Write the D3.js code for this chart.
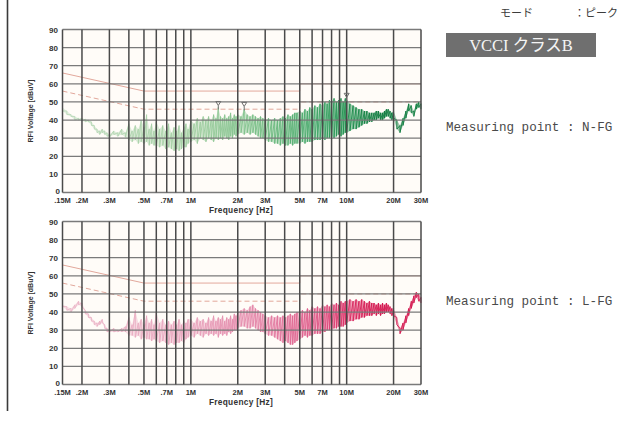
<!DOCTYPE html>
<html>
<head>
<meta charset="utf-8">
<script src="https://cdn.jsdelivr.net/npm/d3@7"></script>
<style>
  html, body { margin: 0; padding: 0; background: #fff; }
  svg { display: block; }
</style>
</head>
<body>
<svg id="chart" width="632" height="425"></svg>
<script>
// frequency points (MHz) shared by both traces
const freqs = [
  0.15,0.16,0.17,0.18,0.19,0.2,0.21,0.22,0.23,0.24,0.25,0.26,0.27,0.28,0.29,0.3,0.32,0.34,0.36,0.38,
  0.4,0.42,0.44,0.46,0.48,0.5,0.52,0.54,0.56,0.58,0.6,0.63,0.66,0.69,0.72,0.75,0.78,0.81,0.84,0.87,0.9,0.93,0.96,
  1,1.05,1.1,1.15,1.2,1.25,1.3,1.35,1.4,1.45,1.5,1.55,1.6,1.65,1.7,1.75,1.8,1.85,1.9,1.95,
  2,2.1,2.2,2.3,2.4,2.5,2.6,2.7,2.8,2.9,3,3.15,3.3,3.45,3.6,3.75,3.9,4.05,4.2,4.35,4.5,4.65,4.8,
  5,5.2,5.4,5.6,5.8,6,6.25,6.5,6.75,7,7.25,7.5,7.75,8,8.3,8.6,8.9,9.2,9.5,9.8,
  10,10.5,11,11.5,12,12.5,13,13.5,14,14.5,15,15.5,16,16.5,17,17.5,18,18.5,19,19.5,
  20,21,22,23,24,25,26,27,28,29,30
];

// N-FG trace, upper and lower envelope (dBuV)
const nfgHigh = [
  47,45,43,42,41,41,40.5,40,39,37,35,34,35,34,33,32,34,33,35,33,
  38,34,37,35,40,36,43,35,38,34,39,35,37,34,38,33,36,34,37,33,36,38,35,
  40,38,41,39,42,40,42,40,43,41,47,42,41,43,41,42,44,41,43,42,
  43,42,46,43,42,43,42,41,42,41,40,41,40,41,40,41,42,41,43,42,43,44,44,
  45,44,46,45,47,46,48,47,49,48,50,49,51,50,52,50,51,52,50,52,
  51,49,48,47,46,46,45,45,44,44,44,45,45,44,44,45,46,46,45,44,
  45,40,37,41,45,49,48,45,49,50,49
];
const nfgLow = [
  45,43,42,40,40,39.5,39,39,37,35,33,32,33,32,31,30.5,32,31,32,30.5,
  29,28,29,27,28,27,28,26,27,26,26,25,26,24,25,24,23,24,23,24,25,25,27,
  28,29,27,30,29,28,30,29,28,30,29,30,29,31,30,29,31,30,32,31,
  32,33,32,33,32,33,32,31,30,30,29,28,28,27,27,26,27,26,26,27,26,27,27,
  27,28,27,28,28,28,29,29,29,30,29,30,30,31,30,31,32,31,32,33,
  33,34,35,35,36,37,38,38,39,39,40,40,41,40,40,41,42,42,41,40,
  41,35,33,37,41,45,44,42,46,47,46
];

// L-FG trace, upper and lower envelope (dBuV)
const lfgHigh = [
  44,43,42,44,46,45,41,39,37,35,34,35,36,33,31,30,31,30,31,32,
  37,33,41,34,36,33,38,34,36,33,40,34,36,33,35,33,35,33,36,33,35,34,36,
  36,34,37,35,36,34,37,35,38,35,37,36,38,35,37,36,38,36,39,38,
  40,41,42,41,43,44,42,41,40,39,38,37,38,37,38,37,38,37,38,39,38,39,40,
  40,41,40,42,41,43,42,43,42,44,43,44,43,45,44,45,44,46,45,46,
  46,47,46,47,46,47,46,45,46,45,45,44,45,44,45,44,45,44,43,42,
  42,37,31,34,38,42,46,49,51,50,48
];
const lfgLow = [
  43,41,40,42,44,43,39,37,35,33,32,33,34,31,29,29,29,29,29,29,
  27,27,26,27,25,26,25,25,24,25,24,23,24,23,22,23,22,23,23,24,23,25,26,
  27,26,28,27,26,28,27,28,27,28,26,28,27,28,27,29,28,29,30,30,
  31,32,32,31,31,32,31,30,29,29,28,27,27,26,25,24,23,24,23,22,22,23,24,
  25,26,27,26,27,27,28,28,28,29,29,30,30,30,31,31,32,32,32,33,
  34,35,35,36,36,37,37,38,38,38,39,38,39,38,39,39,40,40,39,38,
  38,33,28,30,34,38,42,45,48,46,45
];

// peak markers on the N-FG plot [MHz, dBuV]
const nfgMarkers = [[1.5, 47.5], [2.2, 47], [10, 52]];

// limit lines (quasi-peak solid, average dashed)
const qpLimit = [[0.15, 66], [0.5, 56], [5, 56], [5, 60], [30, 60]];
const avLimit = [[0.15, 56], [0.5, 46], [5, 46], [5, 50], [30, 50]];

const gridFreqs = [0.2,0.3,0.4,0.5,0.6,0.7,0.8,0.9,1,2,3,4,5,6,7,8,9,10,20];
const tickFreqs = [0.15,0.2,0.3,0.5,0.7,1,2,3,5,7,10,20,30];
const tickLabels = [".15M",".2M",".3M",".5M",".7M","1M","2M","3M","5M","7M","10M","20M","30M"];
const yTicks = [0,10,20,30,40,50,60,70,80,90];

// colour ramps along frequency
const greenStops = [[0.15,"#b9d9b9"],[1,"#9fcd9f"],[3,"#6fbb80"],[7,"#35a060"],[10,"#178c48"],[15,"#08783a"],[30,"#0a7a3b"]];
const pinkStops = [[0.15,"#ebb6c8"],[1,"#e7a0ba"],[3,"#e27ca2"],[7,"#dc4b7e"],[10,"#d8245e"],[15,"#d2104a"],[30,"#d3124c"]];

const svg = d3.select("#chart");
const defs = svg.append("defs");
const x = d3.scaleLog().domain([0.15, 30]).range([62.5, 421]);

// left page rule
svg.append("line")
  .attr("x1", 7.5).attr("x2", 7.5).attr("y1", 0).attr("y2", 411)
  .attr("stroke", "#3a3a3a").attr("stroke-width", 1.6);

function makeGradient(id, stops) {
  const g = defs.append("linearGradient")
    .attr("id", id)
    .attr("gradientUnits", "userSpaceOnUse")
    .attr("x1", x.range()[0]).attr("x2", x.range()[1])
    .attr("y1", 0).attr("y2", 0);
  g.selectAll("stop").data(stops).enter().append("stop")
    .attr("offset", d => (x(d[0]) - x.range()[0]) / (x.range()[1] - x.range()[0]))
    .attr("stop-color", d => d[1]);
}
makeGradient("gradN", greenStops);
makeGradient("gradL", pinkStops);

function drawPanel(yTop, yBottom, high, low, gradId, markers) {
  const y = d3.scaleLinear().domain([0, 90]).range([yBottom, yTop]);
  const g = svg.append("g");

  g.append("rect")
    .attr("x", x.range()[0]).attr("y", yTop)
    .attr("width", x.range()[1] - x.range()[0]).attr("height", yBottom - yTop)
    .attr("fill", "#fffcf8");

  // limit lines
  const lim = d3.line().x(d => x(d[0])).y(d => y(d[1]));
  g.append("path").attr("d", lim(qpLimit))
    .attr("fill", "none").attr("stroke", "#e2a89c").attr("stroke-width", 1);
  g.append("path").attr("d", lim(avLimit))
    .attr("fill", "none").attr("stroke", "#e2a89c").attr("stroke-width", 1)
    .attr("stroke-dasharray", "5,3");

  // trace: envelope band + saw-tooth between high and low
  const pts = freqs.map((f, i) => ({ f: f, hi: high[i], lo: low[i] }));
  const area = d3.area().x(d => x(d.f)).y0(d => y(d.lo)).y1(d => y(d.hi));
  g.append("path").attr("d", area(pts))
    .attr("fill", "url(#" + gradId + ")").attr("fill-opacity", 0.4);

  const saw = [];
  pts.forEach(d => { saw.push([x(d.f), y(d.hi)]); saw.push([x(d.f), y(d.lo)]); });
  g.append("path").attr("d", d3.line()(saw))
    .attr("fill", "none").attr("stroke", "url(#" + gradId + ")")
    .attr("stroke-width", 0.85).attr("stroke-linejoin", "round");

  // grid
  g.selectAll("line.hgrid").data(yTicks).enter().append("line")
    .attr("class", "hgrid")
    .attr("x1", x.range()[0]).attr("x2", x.range()[1])
    .attr("y1", d => y(d)).attr("y2", d => y(d))
    .attr("stroke", "#7a7a7a").attr("stroke-width", 1.3);
  g.selectAll("line.vgrid").data([0.15].concat(gridFreqs, [30])).enter().append("line")
    .attr("class", "vgrid")
    .attr("x1", d => x(d)).attr("x2", d => x(d))
    .attr("y1", yTop).attr("y2", yBottom)
    .attr("stroke", "#4a4a4a").attr("stroke-width", 1.5);

  // peak markers
  if (markers) {
    g.selectAll("path.marker").data(markers).enter().append("path")
      .attr("class", "marker")
      .attr("d", d => {
        const mx = x(d[0]), my = y(d[1]);
        return "M" + (mx - 2.5) + "," + (my - 5) + "L" + (mx + 2.5) + "," + (my - 5) +
          "L" + mx + "," + (my - 1) + "Z M" + mx + "," + (my - 1) + "V" + (my + 3);
      })
      .attr("fill", "none").attr("stroke", "#6e6e6e").attr("stroke-width", 1);
  }

  // axis labels
  g.selectAll("text.ytick").data(yTicks).enter().append("text")
    .attr("class", "ytick")
    .attr("x", d => d === 0 ? 60 : 58).attr("y", d => y(d) + (d === 0 ? 1.5 : 3))
    .attr("text-anchor", "end")
    .attr("font-family", "Liberation Sans, Arial, sans-serif")
    .attr("font-weight", "bold").attr("font-size", 8)
    .attr("fill", "#333")
    .text(d => d);

  g.selectAll("text.xtick").data(tickFreqs).enter().append("text")
    .attr("class", "xtick")
    .attr("x", d => x(d)).attr("y", yBottom + 10.5)
    .attr("text-anchor", "middle")
    .attr("font-family", "Liberation Sans, Arial, sans-serif")
    .attr("font-weight", "bold").attr("font-size", 7.5)
    .attr("fill", "#333")
    .text((d, i) => tickLabels[i]);

  g.append("text")
    .attr("x", 241).attr("y", yBottom + 20)
    .attr("text-anchor", "middle")
    .attr("font-family", "Liberation Sans, Arial, sans-serif")
    .attr("font-weight", "bold").attr("font-size", 8.3)
    .attr("letter-spacing", 0.3)
    .attr("fill", "#333")
    .text("Frequency  [Hz]");

  g.append("text")
    .attr("transform", "translate(33," + ((yTop + yBottom) / 2) + ") rotate(-90)")
    .attr("text-anchor", "middle")
    .attr("font-family", "Liberation Sans, Arial, sans-serif")
    .attr("font-weight", "bold").attr("font-size", 7)
    .attr("fill", "#333")
    .text("RFI Voltage  [dBuV]");
}

drawPanel(29.5, 192.5, nfgHigh, nfgLow, "gradN", nfgMarkers);
drawPanel(221.5, 384.5, lfgHigh, lfgLow, "gradL", null);

// right-hand annotations
const jp = "Noto Sans CJK JP, sans-serif";
svg.append("text").attr("x", 500).attr("y", 17)
  .attr("font-family", jp).attr("font-size", 11).attr("fill", "#3c3c3c")
  .text("モード");
svg.append("text").attr("x", 618).attr("y", 17).attr("text-anchor", "end")
  .attr("font-family", jp).attr("font-size", 11).attr("fill", "#3c3c3c")
  .text("：ピーク");

svg.append("rect").attr("x", 446).attr("y", 33).attr("width", 150).attr("height", 24)
  .attr("fill", "#6f6f6f");
svg.append("text").attr("x", 521).attr("y", 51).attr("text-anchor", "middle")
  .attr("font-family", "Liberation Serif, Noto Sans CJK JP, serif")
  .attr("font-size", 16.5).attr("fill", "#f4f4f4")
  .text("VCCI クラスB");

const mono = "Liberation Mono, Noto Sans CJK JP, monospace";
svg.append("text").attr("x", 446).attr("y", 131)
  .attr("font-family", mono).attr("font-size", 12.6).attr("fill", "#4a4a4a")
  .text("Measuring point : N-FG");
svg.append("text").attr("x", 446).attr("y", 305)
  .attr("font-family", mono).attr("font-size", 12.6).attr("fill", "#4a4a4a")
  .text("Measuring point : L-FG");
</script>
</body>
</html>
